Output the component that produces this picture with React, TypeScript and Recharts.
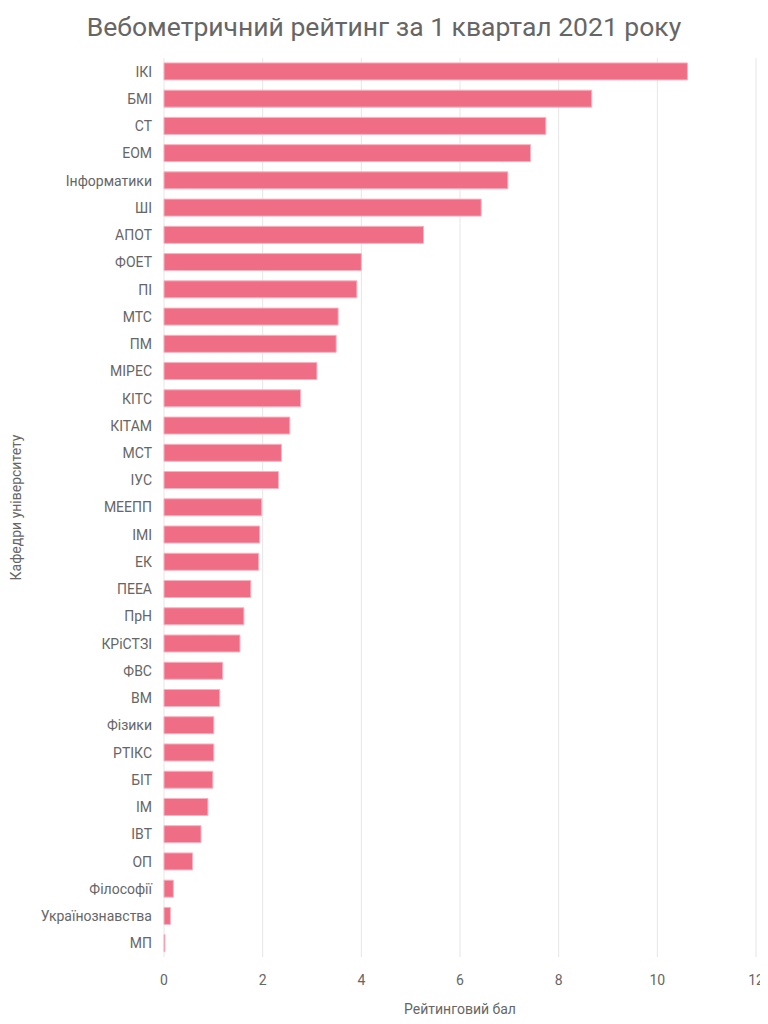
import React from 'react';
import { BarChart, Bar, XAxis, YAxis, CartesianGrid } from 'recharts';

const categories = ['ІКІ','БМІ','СТ','ЕОМ','Інформатики','ШІ','АПОТ','ФОЕТ','ПІ','МТС','ПМ','МІРЕС','КІТС','КІТАМ','МСТ','ІУС','МЕЕПП','ІМІ','ЕК','ПЕЕА','ПрН','КРіСТЗІ','ФВС','ВМ','Фізики','РТІКС','БІТ','ІМ','ІВТ','ОП','Філософії','Українознавства','МП'];
const values = [10.61,8.67,7.74,7.43,6.97,6.43,5.26,4.0,3.91,3.53,3.49,3.1,2.77,2.55,2.38,2.32,1.98,1.94,1.92,1.76,1.62,1.54,1.19,1.13,1.01,1.01,0.99,0.89,0.75,0.58,0.19,0.13,0.02];
const xTicks = [0,2,4,6,8,10,12];

const data = categories.map((name, i) => ({ name, value: values[i] }));
const font = 'Roboto, "Liberation Sans", sans-serif';

export default function App() {
  return (
    <div style={{ position: 'relative', width: 760, height: 1016, fontFamily: font }}>
      <div style={{ position: 'absolute', top: 3, left: 0, width: 752, textAlign: 'center', fontSize: 26.5, color: '#666' }}>
        Вебометричний рейтинг за 1 квартал 2021 року
      </div>
      <BarChart width={760} height={1016} data={data} layout="vertical"
        margin={{ top: 50, right: 12, bottom: 0, left: 4 }} barCategoryGap="18%">
        <CartesianGrid horizontal={false} stroke="#e6e6e6" />
        <XAxis type="number" domain={[0, 12]} ticks={xTicks} height={67} axisLine={false} tickLine={false}
          tickMargin={12} tick={{ fill: '#666', fontSize: 14, fontFamily: font }}
          label={{ value: 'Рейтинговий бал', position: 'insideBottom', offset: 10, fill: '#666', fontSize: 14, fontFamily: font }} />
        <YAxis type="category" dataKey="name" width={152} axisLine={false} tickLine={false} interval={0}
          tickMargin={6} tick={{ fill: '#666', fontSize: 14, fontFamily: font }}
          label={{ value: 'Кафедри університету', angle: -90, position: 'insideLeft', offset: 4, fill: '#666', fontSize: 14, fontFamily: font, style: { textAnchor: 'middle' } }} />
        <Bar dataKey="value" fill="#ef6d85" stroke="#f7b3c0" strokeWidth={1} isAnimationActive={false} />
      </BarChart>
    </div>
  );
}
